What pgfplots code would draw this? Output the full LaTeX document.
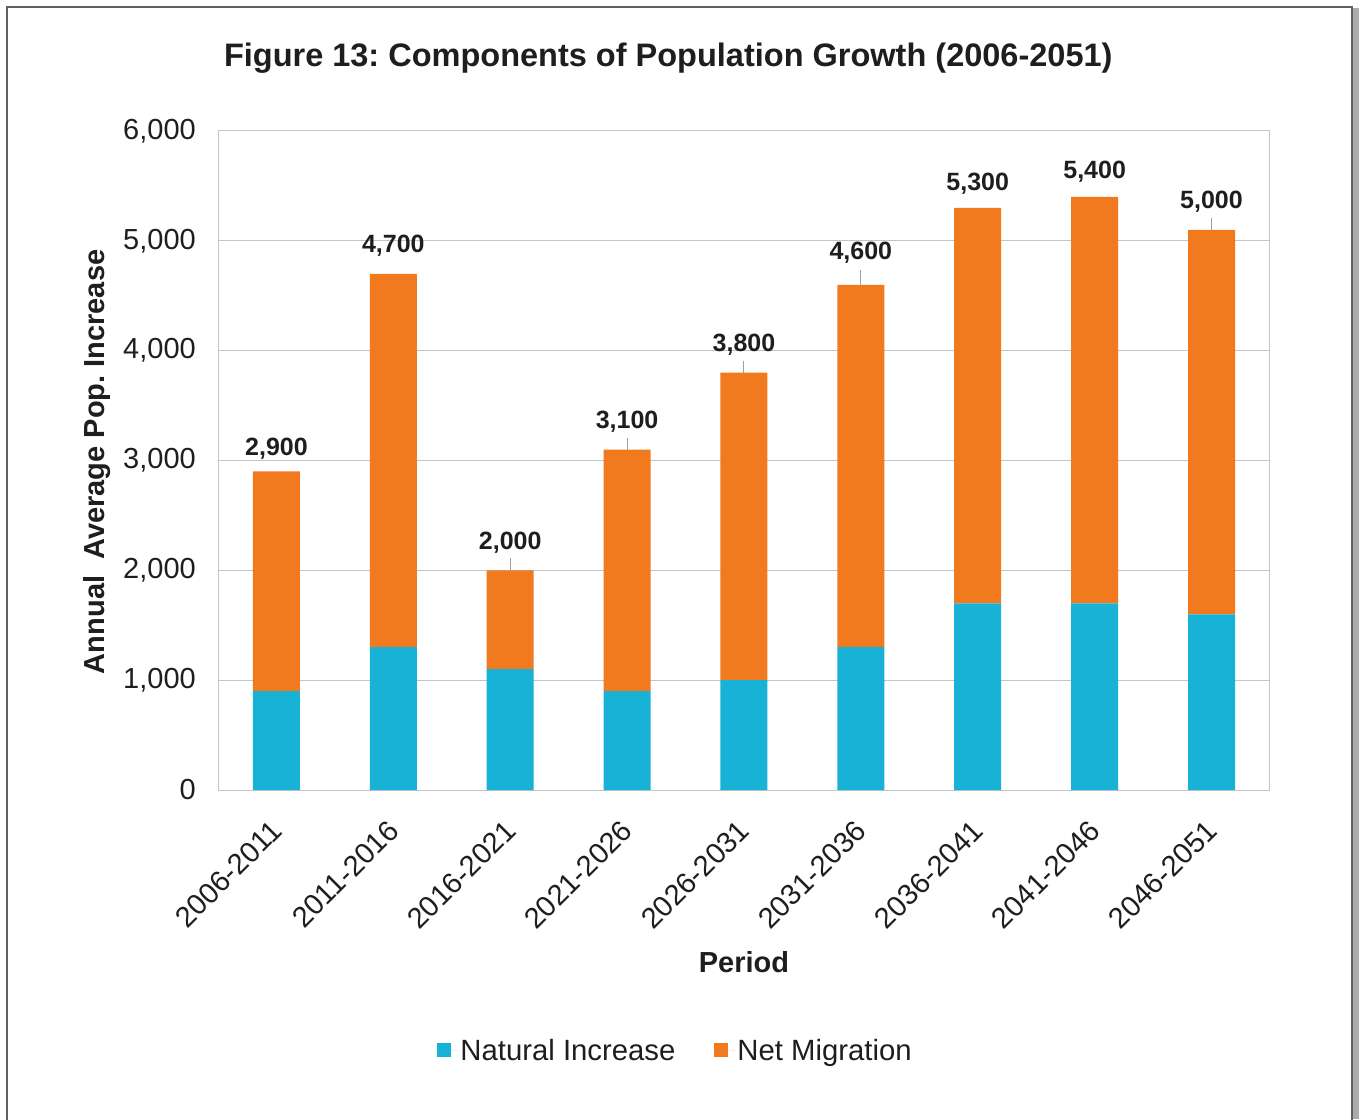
\documentclass[border=0pt]{standalone}
\usepackage{pgfplots}
\pgfplotsset{compat=1.18}
\usepackage{fontspec}
\setmainfont{Liberation Sans}
\definecolor{orng}{HTML}{F27A1E}
\definecolor{cyn}{HTML}{17B2D6}
\definecolor{gridc}{HTML}{C4C4C4}
\definecolor{leadgray}{HTML}{A0A0A0}
\definecolor{framec}{HTML}{606060}
\definecolor{shadowc}{HTML}{ABABAE}
\definecolor{txt}{HTML}{1E1E1E}
\newsavebox\lblbox
\protected\def\dl#1#2#3{\sbox\lblbox{\textbf{#1}}\rlap{\makebox[\wd\lblbox]{\textcolor{leadgray}{\rule{1pt}{#3pt}}}}\raisebox{#2pt}{\usebox\lblbox}}
\pgfplotsset{geom/.style={at={(218pt,329pt)}, anchor=south west,
  width=1052pt, height=659pt, scale only axis,
  xmin=-0.5, xmax=8.5, ymin=0, ymax=6000}}
\begin{document}
\frenchspacing
\begin{tikzpicture}
\path[use as bounding box] (0,0) rectangle (1359pt,1119pt);
\fill[white] (0,0) rectangle (1359pt,1119pt);
\draw[line width=1.5pt, color=framec] (7pt,-2pt) -- (7pt,1112pt) -- (1352pt,1112pt) -- (1352pt,-2pt);
\fill[shadowc] (1353pt,0) rectangle (1359pt,1111pt);
\begin{axis}[
  geom,
  ybar stacked, bar width=47pt,
  xtick={0,1,2,3,4,5,6,7,8},
  xticklabels={2006-2011,2011-2016,2016-2021,2021-2026,2026-2031,2031-2036,2036-2041,2041-2046,2046-2051},
  ytick={0,1000,2000,3000,4000,5000,6000},
  ymajorgrids, major grid style={color=gridc, line width=1pt},
  axis line style={color=gridc, line width=1pt},
  major tick length=0pt,
  tick label style={font=\fontsize{29}{34}\selectfont, text=txt},
  /pgf/number format/assume math mode=true,
  /pgf/number format/1000 sep={,},
  yticklabel style={inner sep=0pt, xshift=-22pt},
  xticklabel style={rotate=45, anchor=north east, inner sep=0pt, xshift=-24.75pt, yshift=-14.85pt},
  xlabel={Period},
  xlabel style={font=\bfseries\fontsize{29}{34}\selectfont, text=txt, at={(axis description cs:0.5,-0.261)}, anchor=center},
  ylabel={Annual\ \ Average Pop. Increase},
  ylabel style={font=\bfseries\fontsize{29}{34}\selectfont, text=txt, at={(axis description cs:-0.115,0.498)}, anchor=center},
  title={Figure 13: Components of Population Growth (2006-2051)},
  title style={font=\bfseries\fontsize{32.5}{39}\selectfont, text=txt, at={(axis description cs:0.428,1.101)}, anchor=center},
  legend style={at={(axis description cs:0.435,-0.395)}, anchor=center, draw=none, fill=none,
    legend columns=2, font=\fontsize{29.3}{34}\selectfont, text=txt,
    /tikz/every even column/.append style={column sep=37pt}},
  sqleg/.style={legend image code/.code={\path[##1] (0pt,-7pt) rectangle (14pt,7pt); \path (14pt,0pt) -- (21pt,0pt);}},
]
\addplot[draw=none, fill=cyn, sqleg]
  coordinates {(0,900) (1,1300) (2,1100) (3,900) (4,1000) (5,1300) (6,1700) (7,1700) (8,1600)};
\addlegendentry{Natural Increase}
\addplot[draw=none, fill=orng, sqleg]
  coordinates {(0,2000) (1,3400) (2,900) (3,2200) (4,2800) (5,3300) (6,3600) (7,3700) (8,3500)};
\addlegendentry{Net Migration}
\end{axis}
\begin{axis}[geom, hide axis]
\addplot[draw=none, mark=none, point meta=explicit symbolic,
  nodes near coords={\pgfplotspointmeta},
  every node near coord/.style={anchor=base, inner sep=0pt, font=\fontsize{25}{30}\selectfont, text=txt}]
  coordinates {(0,2900) [\dl{2,900}{16}{0}] (1,4700) [\dl{4,700}{21}{0}] (2,2000) [\dl{2,000}{21}{12}]
               (3,3100) [\dl{3,100}{21}{12}] (4,3800) [\dl{3,800}{21}{12}] (5,4600) [\dl{4,600}{25}{15}]
               (6,5300) [\dl{5,300}{17}{0}] (7,5400) [\dl{5,400}{18}{0}] (8,5100) [\dl{5,000}{21}{12}]};
\end{axis}
\end{tikzpicture}
\end{document}
